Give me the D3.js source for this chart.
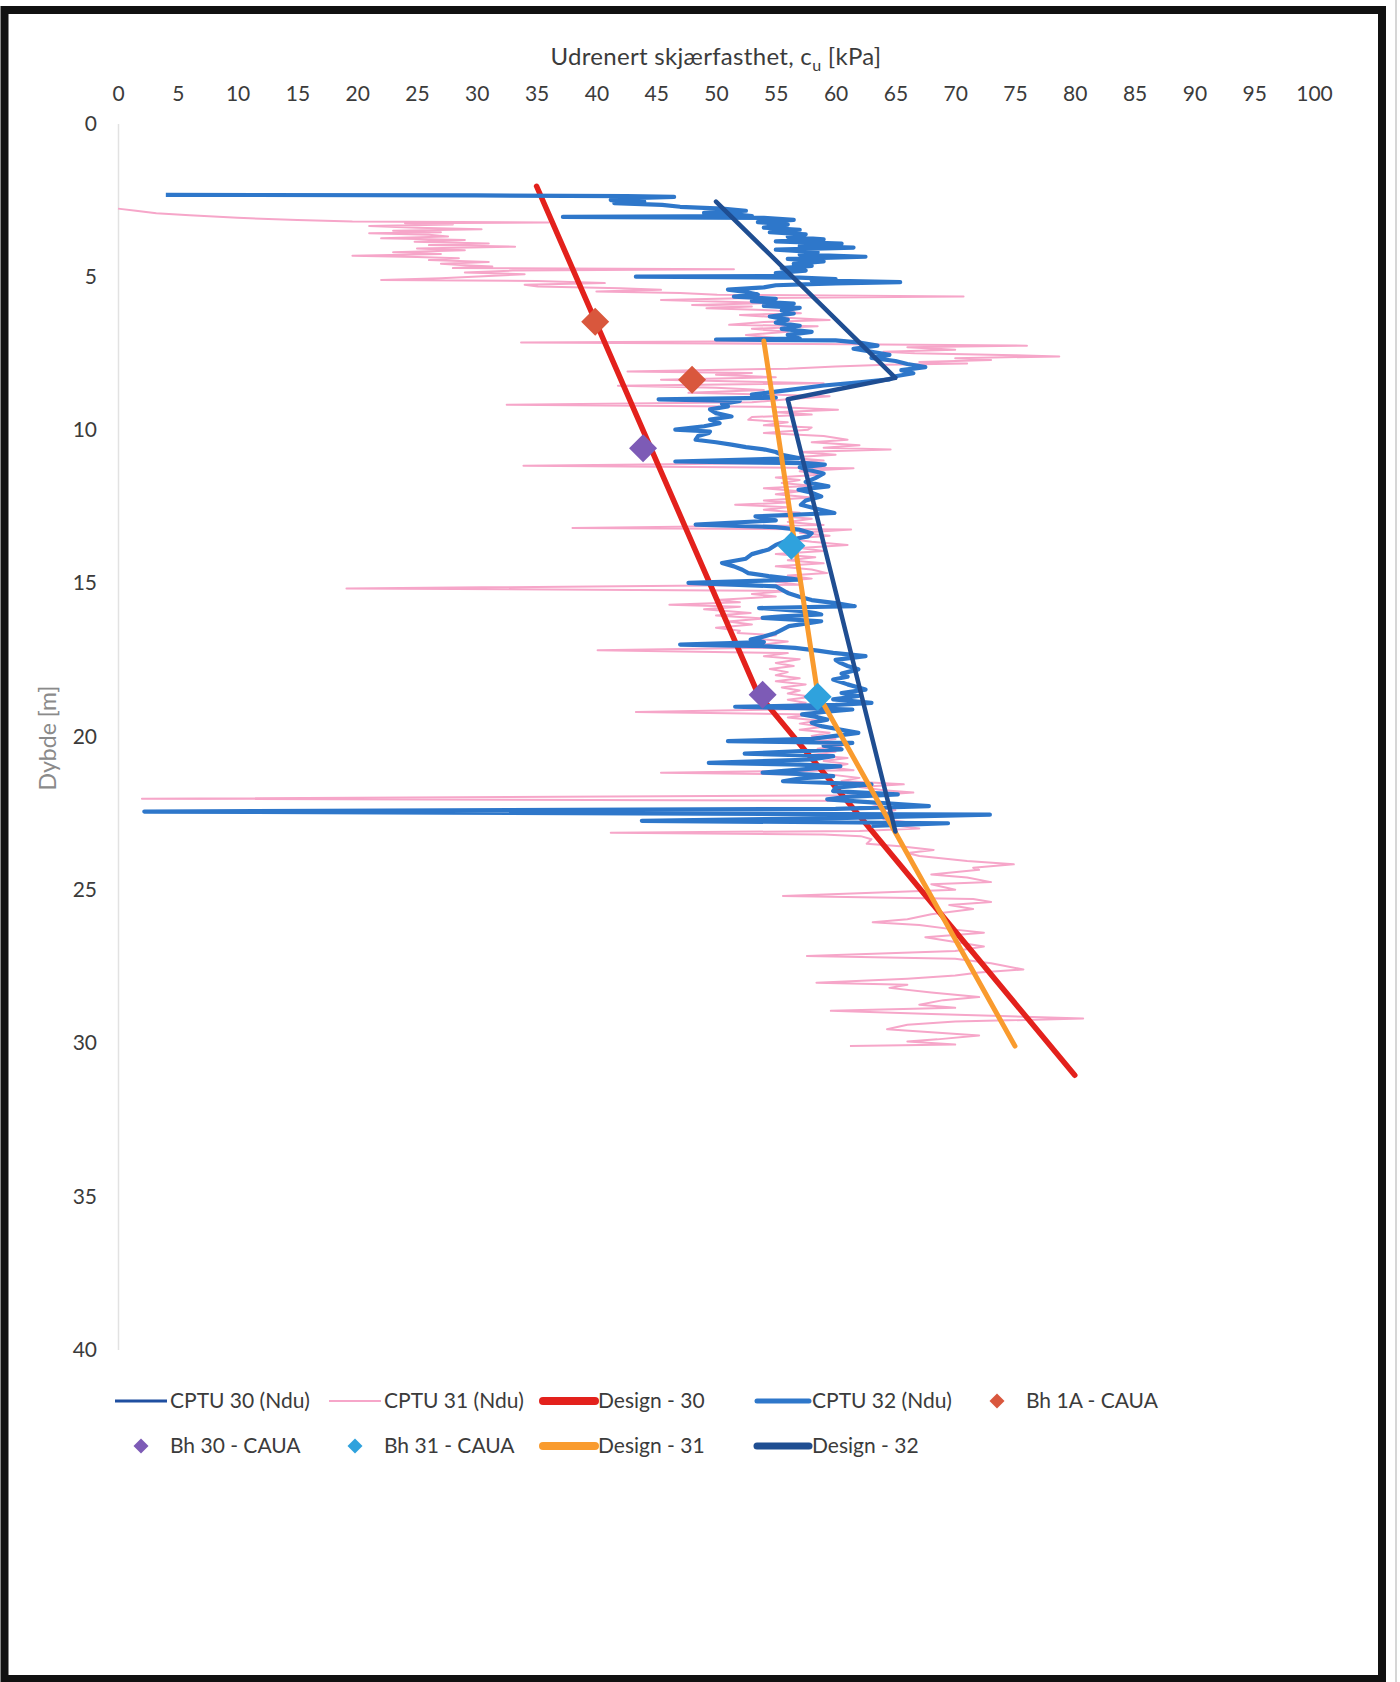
<!DOCTYPE html>
<html>
<head>
<meta charset="utf-8">
<script src="https://cdn.jsdelivr.net/npm/d3@7"></script>
<style>
  body { margin: 0; background: #fff; }
  svg { display: block; font-family: Lato, "Open Sans", sans-serif; }
</style>
</head>
<body>
<svg id="chart" width="1400" height="1682"></svg>
<script>
// ---- axis ticks ----
const strengthTicks = [0, 5, 10, 15, 20, 25, 30, 35, 40, 45, 50, 55, 60, 65, 70, 75, 80, 85, 90, 95, 100];
const depthTicks = [0, 5, 10, 15, 20, 25, 30, 35, 40];

// ---- measured profiles: [depth (m), cu (kPa)] ----
const cptu31 = [
  [2.78, 0], [2.85, 1.5], [2.93, 3.2], [3.0, 6], [3.08, 10], [3.15, 15], [3.2, 19.6], [3.23, 36], [3.26, 24],
  [3.3, 28], [3.35, 21], [3.4, 25], [3.45, 30.4], [3.5, 23], [3.55, 27], [3.58, 21], [3.63, 26], [3.69, 27.6],
  [3.75, 22], [3.8, 29], [3.86, 24.8], [3.92, 31], [3.97, 26], [4.02, 33.2], [4.08, 25], [4.14, 29], [4.2, 23],
  [4.26, 27], [4.32, 19.6], [4.36, 25], [4.4, 28.5], [4.46, 26], [4.52, 31], [4.58, 27], [4.63, 29], [4.67, 31.3],
  [4.72, 28], [4.76, 51.5], [4.8, 33], [4.86, 29], [4.92, 34], [4.98, 31], [5.05, 27], [5.11, 22], [5.14, 35],
  [5.21, 40.7], [5.26, 34], [5.32, 35.1], [5.38, 42], [5.43, 45.4], [5.48, 40], [5.53, 47], [5.59, 50.1],
  [5.65, 70.7], [5.7, 52], [5.76, 45.4], [5.81, 50], [5.86, 54.8], [5.92, 48], [5.97, 53], [6.03, 49.2],
  [6.1, 55], [6.19, 57.1], [6.25, 52], [6.32, 55], [6.41, 59.5], [6.48, 54], [6.57, 51.1], [6.62, 58.5],
  [6.7, 53], [6.8, 56], [6.9, 52.5], [7.0, 55], [7.1, 57], [7.15, 33.7], [7.2, 58], [7.25, 76], [7.3, 66],
  [7.38, 70], [7.45, 64], [7.5, 66.6], [7.56, 75], [7.6, 78.7], [7.66, 70], [7.72, 73], [7.78, 67], [7.83, 71],
  [7.87, 64.2], [7.93, 60], [8.0, 56], [8.09, 42.6], [8.14, 53], [8.2, 50], [8.28, 55], [8.36, 45.4], [8.42, 52],
  [8.48, 59], [8.56, 41.8], [8.62, 50], [8.7, 54], [8.79, 47.7], [8.85, 55], [8.9, 59.5], [9.0, 56], [9.1, 53],
  [9.18, 32.5], [9.25, 55], [9.34, 60.2], [9.42, 55], [9.5, 58], [9.58, 53], [9.67, 52.7], [9.75, 56], [9.85, 54],
  [9.92, 58], [9.99, 57.7], [10.1, 54], [10.2, 59], [10.32, 61], [10.4, 58], [10.5, 62], [10.58, 59], [10.64, 64.6],
  [10.72, 57], [10.81, 60], [10.9, 56], [11.0, 59], [11.08, 55], [11.17, 33.9], [11.25, 61.5], [11.35, 57],
  [11.45, 59], [11.55, 55], [11.63, 57], [11.73, 55.5], [11.82, 58], [11.9, 54], [12.0, 57], [12.1, 55], [12.2, 58],
  [12.3, 54], [12.37, 56], [12.44, 51.6], [12.52, 56], [12.6, 54], [12.7, 57], [12.8, 55], [12.9, 58], [13.0, 56],
  [13.1, 59], [13.2, 38], [13.25, 61.3], [13.35, 57], [13.45, 59.5], [13.55, 56], [13.65, 58], [13.75, 61],
  [13.85, 57], [13.95, 59], [14.05, 55], [14.15, 58.3], [14.25, 56], [14.35, 59], [14.45, 55], [14.55, 58],
  [14.67, 59.3], [14.75, 56], [14.85, 58], [14.95, 55], [15.05, 57], [15.17, 19.1], [15.25, 56], [15.35, 53],
  [15.43, 55], [15.55, 50], [15.62, 52], [15.7, 46.1], [15.77, 52], [15.85, 49], [15.97, 52.9], [16.05, 50],
  [16.15, 54], [16.25, 51], [16.35, 53], [16.45, 50], [16.55, 52], [16.62, 51.8], [16.7, 55], [16.8, 53], [16.9, 56],
  [17.0, 54], [17.1, 55.5], [17.19, 40.1], [17.28, 56], [17.38, 54], [17.48, 57], [17.6, 55], [17.7, 56.5],
  [17.8, 54.5], [17.9, 56], [18.0, 55], [18.1, 57], [18.2, 55], [18.3, 57.5], [18.4, 55.5], [18.5, 57], [18.6, 56],
  [18.7, 58], [18.8, 56], [18.9, 57.5], [19.0, 56], [19.1, 58], [19.2, 43.3], [19.28, 58], [19.38, 56], [19.48, 58.5],
  [19.58, 57], [19.68, 59], [19.78, 57], [19.88, 59.5], [19.98, 58], [20.08, 60], [20.18, 58], [20.3, 60.5],
  [20.4, 58.5], [20.5, 60], [20.6, 58], [20.7, 61], [20.8, 59], [20.9, 61], [21.0, 59.5], [21.1, 61.5], [21.18, 45.4],
  [21.26, 60], [21.35, 62], [21.45, 60.5], [21.56, 65.7], [21.65, 62], [21.75, 64], [21.83, 66.5], [21.92, 63],
  [22.03, 2], [22.1, 62], [22.2, 64], [22.3, 63], [22.4, 65], [22.5, 64], [22.6, 66], [22.7, 64], [22.8, 66],
  [22.9, 65], [23.0, 67], [23.08, 62], [23.14, 41.2], [23.2, 59], [23.25, 62.1], [23.35, 63], [23.5, 62.6],
  [23.58, 65.4], [23.7, 68.2], [23.8, 66], [23.9, 67], [24.06, 71], [24.17, 74.9], [24.28, 71.5], [24.35, 72],
  [24.5, 68], [24.6, 71], [24.75, 73], [24.82, 68], [25.0, 70], [25.2, 55.6], [25.3, 71.5], [25.4, 73], [25.5, 69.5],
  [25.63, 71.5], [25.8, 68], [25.96, 66], [26.06, 63.1], [26.15, 67], [26.3, 70], [26.4, 72.4], [26.55, 67.5],
  [26.7, 70], [26.85, 72.4], [27.0, 70], [27.16, 57.6], [27.25, 70], [27.4, 73], [27.6, 75.7], [27.7, 72], [27.8, 70],
  [27.9, 66], [28.03, 58.4], [28.1, 66], [28.2, 64.5], [28.35, 68], [28.5, 72], [28.6, 69], [28.75, 67], [28.85, 70],
  [28.95, 59.6], [29.05, 68], [29.2, 80.7], [29.3, 70], [29.4, 66], [29.55, 64.3], [29.65, 68], [29.75, 72],
  [29.88, 68.5], [29.95, 66], [30.05, 70], [30.1, 61.2]
];

const cptu32 = [
  [2.33, 4.0], [2.35, 30], [2.37, 42.5], [2.40, 46.5], [2.45, 42], [2.50, 41.2], [2.55, 44], [2.60, 41.5],
  [2.66, 45.5], [2.72, 47], [2.78, 50.5], [2.85, 52.5], [2.92, 49], [2.98, 52], [3.02, 53], [3.05, 37.2],
  [3.08, 54], [3.15, 56.5], [3.22, 53.5], [3.30, 56], [3.40, 54], [3.47, 57], [3.55, 54.5], [3.62, 57.5],
  [3.70, 56], [3.78, 59], [3.85, 55], [3.92, 60.5], [4.00, 57], [4.05, 61.5], [4.12, 55], [4.20, 58.5],
  [4.28, 57], [4.35, 62.5], [4.42, 56], [4.50, 59], [4.58, 56.5], [4.65, 58], [4.72, 55.5], [4.80, 57.5],
  [4.88, 55], [4.98, 56], [5.00, 43.3], [5.03, 57], [5.08, 60], [5.12, 58], [5.18, 65.4], [5.22, 60], [5.28, 55],
  [5.35, 54], [5.42, 51], [5.50, 52.5], [5.58, 53.5], [5.65, 51.5], [5.72, 55], [5.80, 53], [5.88, 56.5],
  [5.95, 54], [6.02, 57], [6.10, 55.5], [6.20, 56.5], [6.30, 54.5], [6.40, 56], [6.50, 55], [6.60, 57],
  [6.70, 55.5], [6.80, 58], [6.90, 56], [7.02, 57], [7.05, 50], [7.08, 60], [7.15, 62], [7.25, 63.5], [7.35, 61.5],
  [7.45, 63], [7.55, 64.5], [7.65, 63], [7.75, 65], [7.85, 66], [7.95, 67.5], [8.05, 65.5], [8.15, 66.5],
  [8.25, 65], [8.35, 64.5], [8.45, 62], [8.55, 59], [8.65, 57], [8.75, 55], [8.85, 53], [8.95, 55], [9.00, 45.2],
  [9.05, 52], [9.15, 50.5], [9.23, 51], [9.33, 49.5], [9.45, 50], [9.56, 51.3], [9.66, 49.5], [9.78, 50.3],
  [9.88, 49], [9.99, 46.6], [10.05, 49.5], [10.1, 49.4], [10.2, 48.5], [10.32, 48.3], [10.4, 50], [10.48, 51.3],
  [10.56, 52.5], [10.64, 54.1], [10.72, 55], [10.81, 55.5], [10.92, 56.9], [11.03, 46.6], [11.08, 57.5],
  [11.13, 59.1], [11.22, 57], [11.3, 57.7], [11.42, 59], [11.57, 58.3], [11.7, 57.5], [11.84, 59.4], [11.95, 56.9],
  [12.05, 58], [12.17, 58.8], [12.3, 57.5], [12.44, 57.1], [12.58, 58.5], [12.71, 59.9], [12.82, 53.3],
  [12.95, 55], [13.09, 48.3], [13.17, 55], [13.25, 56.9], [13.37, 58], [13.47, 57.7], [13.6, 56], [13.75, 55],
  [13.9, 54.4], [14.05, 53], [14.2, 52.5], [14.34, 50.5], [14.45, 51.5], [14.56, 52.2], [14.67, 52.7],
  [14.77, 54.4], [14.88, 56.9], [14.99, 47.7], [15.1, 55], [15.21, 55.5], [15.32, 56], [15.43, 56.9], [15.55, 58],
  [15.65, 60], [15.75, 61.6], [15.81, 53.6], [15.9, 57], [15.97, 58.3], [16.02, 58.8], [16.08, 55.5],
  [16.13, 53.9], [16.24, 58.8], [16.4, 56.1], [16.52, 55.5], [16.62, 55.0], [16.74, 54], [16.84, 52.9], [16.92, 54],
  [17.0, 47.0], [17.05, 54], [17.11, 56.6], [17.2, 58.5], [17.27, 59.8], [17.38, 62.5], [17.5, 60], [17.6, 60.4],
  [17.7, 61], [17.81, 61.9], [17.95, 60.5], [18.05, 61], [18.14, 59.8], [18.3, 61], [18.47, 62.5], [18.58, 60.5],
  [18.68, 61.9], [18.79, 59.8], [18.9, 63.0], [18.97, 60], [19.03, 51.6], [19.08, 58], [19.12, 61.4], [19.2, 59],
  [19.28, 57.2], [19.37, 58.5], [19.45, 59.3], [19.55, 58], [19.66, 58.8], [19.78, 60.5], [19.88, 61.9],
  [19.99, 59.8], [20.08, 58], [20.15, 51.0], [20.21, 61.4], [20.3, 59], [20.42, 60.5], [20.56, 52.4],
  [20.64, 59.8], [20.75, 58], [20.86, 49.4], [20.92, 57], [20.97, 60.4], [21.08, 57], [21.18, 53.9], [21.24, 58],
  [21.29, 59.8], [21.37, 57], [21.46, 55.6], [21.56, 63.0], [21.67, 60], [21.78, 59.8], [21.89, 65.2],
  [21.97, 61], [22.05, 59.3], [22.15, 63], [22.27, 67.8], [22.36, 60], [22.45, 2.2], [22.55, 72.9], [22.66, 60],
  [22.75, 43.8], [22.83, 69.4], [22.92, 63]
];

// ---- design lines: [depth (m), cu (kPa)] ----
const design30 = [[2.05, 35], [18.6, 53.5], [31.05, 80]];
const design31 = [[7.1, 54], [18.6, 58.5], [30.1, 75]];
const design32 = [[2.55, 50], [8.3, 65], [9.0, 56], [23.1, 65]];

// ---- laboratory tests: [depth (m), cu (kPa)] ----
const bh1A = [[6.47, 39.9], [8.36, 48.0]];
const bh30 = [[10.6, 43.9], [18.64, 53.9]];
const bh31 = [[13.78, 56.3], [18.7, 58.5]];

// ---- legend ----
const legendRows = [
  ["CPTU 30 (Ndu)", "CPTU 31 (Ndu)", "Design - 30", "CPTU 32 (Ndu)", "Bh 1A - CAUA"],
  ["Bh 30 - CAUA", "Bh 31 - CAUA", "Design - 31", "Design - 32"]
];

const seriesStyle = {
  "CPTU 30 (Ndu)": { kind: "line", color: "#1F4FA0", width: 3 },
  "CPTU 31 (Ndu)": { kind: "line", color: "#F6A6C9", width: 2 },
  "Design - 30":   { kind: "line", color: "#E3211C", width: 5.5, legendWidth: 8 },
  "CPTU 32 (Ndu)": { kind: "line", color: "#2E77CA", width: 4.2, legendWidth: 5 },
  "Bh 1A - CAUA":  { kind: "marker", color: "#D9573D" },
  "Bh 30 - CAUA":  { kind: "marker", color: "#7D5BB6" },
  "Bh 31 - CAUA":  { kind: "marker", color: "#2FA2DD" },
  "Design - 31":   { kind: "line", color: "#F99B2E", width: 5, legendWidth: 8 },
  "Design - 32":   { kind: "line", color: "#1F4E92", width: 4.5, legendWidth: 7 }
};

// ---- layout ----
const svg = d3.select("#chart");
const x = d3.scaleLinear().domain([0, 100]).range([118, 1314]);
const y = d3.scaleLinear().domain([0, 40]).range([123.4, 1349.6]);
const textColor = "#3b3b3b";

// page frame
svg.append("rect").attr("x", 0).attr("y", 0).attr("width", 1400).attr("height", 1682).attr("fill", "#fff");
svg.append("rect")
  .attr("x", 4.5).attr("y", 10).attr("width", 1377.5).attr("height", 1669)
  .attr("fill", "none").attr("stroke", "#111").attr("stroke-width", 8);
svg.append("line").attr("x1", 1396).attr("x2", 1396).attr("y1", 0).attr("y2", 1682)
  .attr("stroke", "#c8c8c8").attr("stroke-width", 1.5);

// top axis (shear strength)
const xAxis = svg.append("g")
  .attr("transform", `translate(0,${y(0)})`)
  .call(d3.axisTop(x).tickValues(strengthTicks).tickSize(0).tickPadding(22));
xAxis.select(".domain").remove();
xAxis.selectAll("text").attr("font-size", 21).attr("fill", textColor).attr("font-family", "Lato, sans-serif");

// left axis (depth)
const yAxis = svg.append("g")
  .attr("transform", `translate(${x(0)},0)`)
  .call(d3.axisLeft(y).tickValues(depthTicks).tickSize(0).tickSizeOuter(0).tickPadding(21));
yAxis.select(".domain").attr("stroke", "#e2e2e2").attr("stroke-width", 1.5);
yAxis.selectAll("text").attr("font-size", 21).attr("fill", textColor).attr("font-family", "Lato, sans-serif");

// axis titles
const title = svg.append("text")
  .attr("x", (x(0) + x(100)) / 2).attr("y", 65)
  .attr("text-anchor", "middle").attr("font-size", 24).attr("letter-spacing", 0.3).attr("fill", textColor);
title.append("tspan").text("Udrenert skjærfasthet, c");
title.append("tspan").attr("font-size", 16).attr("dy", 6).text("u");
title.append("tspan").attr("dy", -6).text(" [kPa]");

svg.append("text")
  .attr("transform", `translate(56,${y(20.05)}) rotate(-90)`)
  .attr("text-anchor", "middle").attr("font-size", 23).attr("fill", "#8a8a8a")
  .text("Dybde [m]");

// series
const line = d3.line().x(d => x(d[1])).y(d => y(d[0]));
const plot = svg.append("g");

function drawLine(data, name, cap) {
  const s = seriesStyle[name];
  plot.append("path").datum(data)
    .attr("d", line)
    .attr("fill", "none")
    .attr("stroke", s.color)
    .attr("stroke-width", s.width)
    .attr("stroke-linejoin", "round")
    .attr("stroke-linecap", cap || "butt");
}

const diamond = r => `M0,${-r}L${r},0L0,${r}L${-r},0Z`;

function drawMarkers(data, name) {
  const s = seriesStyle[name];
  plot.selectAll(null).data(data).enter().append("path")
    .attr("d", diamond(14))
    .attr("transform", d => `translate(${x(d[1])},${y(d[0])})`)
    .attr("fill", s.color);
}

drawLine(cptu31, "CPTU 31 (Ndu)");
drawLine(design30, "Design - 30", "round");
drawLine(cptu32, "CPTU 32 (Ndu)");
drawMarkers(bh1A, "Bh 1A - CAUA");
drawMarkers(bh30, "Bh 30 - CAUA");
drawLine(design31, "Design - 31", "round");
drawLine(design32, "Design - 32", "round");
drawMarkers(bh31, "Bh 31 - CAUA");

// legend
const legendX0 = 115, legendStep = 214, legendRowY = [1401, 1446], sampleW = 52;
legendRows.forEach((row, ri) => {
  row.forEach((name, ci) => {
    const s = seriesStyle[name];
    const g = svg.append("g").attr("transform", `translate(${legendX0 + ci * legendStep},${legendRowY[ri]})`);
    if (s.kind === "line") {
      g.append("line").attr("x1", 0).attr("x2", sampleW).attr("y1", 0).attr("y2", 0)
        .attr("stroke", s.color).attr("stroke-width", s.legendWidth || s.width)
        .attr("stroke-linecap", s.legendWidth ? "round" : "butt");
    } else {
      g.append("path").attr("d", diamond(7.5)).attr("transform", `translate(${sampleW / 2},0)`)
        .attr("fill", s.color);
    }
    g.append("text").attr("x", sampleW + 3).attr("dy", "0.35em")
      .attr("font-size", 21).attr("fill", textColor).text(name);
  });
});
</script>
</body>
</html>
